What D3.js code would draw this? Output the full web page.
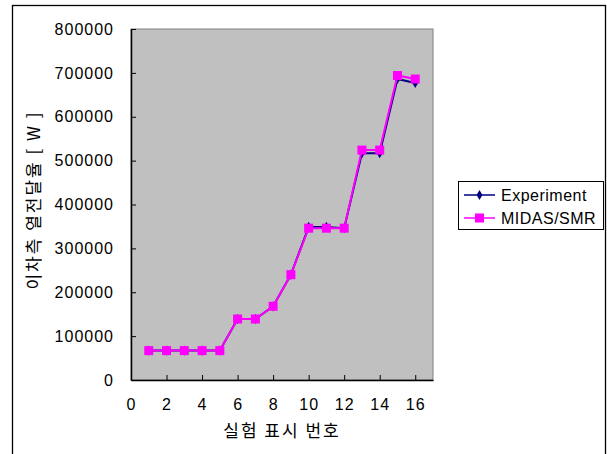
<!DOCTYPE html>
<html>
<head>
<meta charset="utf-8">
<script src="https://cdn.jsdelivr.net/npm/d3@7"></script>
<style>
  body { margin: 0; background: #fff; }
  text { font-family: "Liberation Sans", "Noto Sans CJK KR", sans-serif; fill: #000; }
</style>
</head>
<body>
<div id="chart"></div>
<script>
const runs = [1, 2, 3, 4, 5, 6, 7, 8, 9, 10, 11, 12, 13, 14, 15, 16];
const experiment = [67000, 67000, 67000, 67000, 67000, 139000, 139000, 168000, 240000, 349000, 349000, 346000, 517000, 517000, 686000, 677000];
const midas = [67000, 67000, 67000, 67000, 67000, 139000, 139000, 168000, 240000, 346000, 346000, 346000, 524000, 524000, 694000, 686000];
const xTicks = [0, 2, 4, 6, 8, 10, 12, 14, 16];
const yTicks = [0, 100000, 200000, 300000, 400000, 500000, 600000, 700000, 800000];
const seriesNames = ['Experiment', 'MIDAS/SMR'];

const W = 607, H = 454;
const margin = {top: 29, right: 174, bottom: 74, left: 131};
const width = W - margin.left - margin.right;
const height = H - margin.top - margin.bottom;

const svg = d3.select('#chart').append('svg')
  .attr('width', W)
  .attr('height', H);

// outer frame
svg.append('rect')
  .attr('x', 12.5).attr('y', 5.5)
  .attr('width', 593).attr('height', 470)
  .attr('fill', 'none').attr('stroke', '#000').attr('stroke-width', 1.3);

const g = svg.append('g')
  .attr('transform', 'translate(' + margin.left + ',' + margin.top + ')');

const x = d3.scaleLinear().domain([0, 17]).range([0, width]);
const y = d3.scaleLinear().domain([0, 800000]).range([height, 0]);

g.append('rect')
  .attr('width', width).attr('height', height)
  .attr('fill', '#c0c0c0')
  .attr('stroke', '#808080');

const xAxis = d3.axisBottom(x).tickValues(xTicks).tickSizeInner(-5).tickSizeOuter(0).tickPadding(19);
const yAxis = d3.axisLeft(y).tickValues(yTicks).tickSizeInner(-5).tickSizeOuter(0).tickPadding(17).tickFormat(d3.format('d'));

function styleAxis(a) {
  a.select('.domain').attr('stroke', '#000').attr('stroke-width', 1.5);
  a.selectAll('.tick line').attr('stroke', '#000');
  a.selectAll('.tick text').style('font-size', '16px').style('letter-spacing', '1px').attr('fill', '#000');
}

g.append('g')
  .attr('transform', 'translate(0,' + height + ')')
  .call(xAxis).call(styleAxis);

g.append('g').call(yAxis).call(styleAxis);

const line = d3.line().x((d, i) => x(runs[i])).y(d => y(d));

// Experiment
g.append('path').datum(experiment)
  .attr('d', line).attr('fill', 'none')
  .attr('stroke', '#000080').attr('stroke-width', 2);
g.selectAll('.dia').data(experiment).enter().append('path')
  .attr('class', 'dia')
  .attr('d', d3.symbol(d3.symbolDiamond, 30))
  .attr('transform', (d, i) => 'translate(' + x(runs[i]) + ',' + y(d) + ')')
  .attr('fill', '#000080');

// MIDAS/SMR
g.append('path').datum(midas)
  .attr('d', line).attr('fill', 'none')
  .attr('stroke', '#ff00ff').attr('stroke-width', 2);
g.selectAll('.sq').data(midas).enter().append('rect')
  .attr('class', 'sq')
  .attr('x', (d, i) => x(runs[i]) - 4.5)
  .attr('y', d => y(d) - 4.5)
  .attr('width', 9).attr('height', 9)
  .attr('fill', '#ff00ff');

// axis titles
svg.append('text')
  .attr('x', margin.left + width / 2)
  .attr('y', 437)
  .attr('text-anchor', 'middle')
  .style('font-size', '17px')
  .style('letter-spacing', '2px')
  .style('font-family', '"Noto Sans CJK KR", sans-serif')
  .text('실험 표시 번호');

svg.append('text')
  .attr('transform', 'translate(40,200) rotate(-90)')
  .attr('text-anchor', 'middle')
  .style('font-size', '17px')
  .style('letter-spacing', '2px')
  .style('font-family', '"Noto Sans CJK KR", sans-serif')
  .text('이차측 열전달율 [ W ]');

// legend
const lg = svg.append('g').attr('transform', 'translate(458,181)');
lg.append('rect')
  .attr('x', 0.5).attr('y', 0.5)
  .attr('width', 145).attr('height', 48)
  .attr('fill', '#fff').attr('stroke', '#000');

seriesNames.forEach((name, i) => {
  const cy = 14 + i * 23;
  const col = i === 0 ? '#000080' : '#ff00ff';
  lg.append('line')
    .attr('x1', 6).attr('x2', 37).attr('y1', cy).attr('y2', cy)
    .attr('stroke', col).attr('stroke-width', 1.5);
  if (i === 0) {
    lg.append('path')
      .attr('d', d3.symbol(d3.symbolDiamond, 30))
      .attr('transform', 'translate(21.5,' + cy + ')')
      .attr('fill', col);
  } else {
    lg.append('rect')
      .attr('x', 17).attr('y', cy - 4.5)
      .attr('width', 9).attr('height', 9)
      .attr('fill', col);
  }
  lg.append('text')
    .attr('x', 43).attr('y', cy + 6)
    .style('font-size', '16px')
    .style('letter-spacing', '0.5px')
    .text(name);
});
</script>
</body>
</html>
